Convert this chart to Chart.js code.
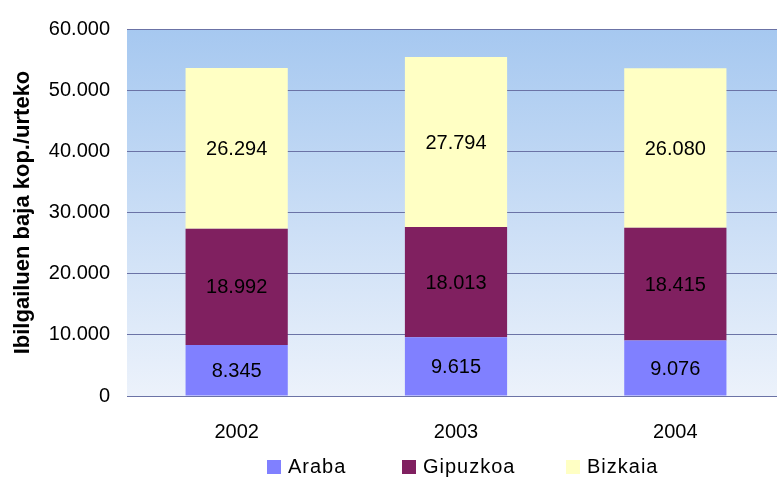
<!DOCTYPE html>
<html lang="eu">
<head>
<meta charset="UTF-8">
<title>Ibilgailuen baja</title>
<script src="https://cdn.jsdelivr.net/npm/chart.js"></script>
<style>
  html, body { margin: 0; padding: 0; background: #fff; overflow: hidden; }
  #wrap { width: 785px; height: 477px; }
</style>
</head>
<body>
<div id="wrap"><canvas id="bajaChart"></canvas></div>
<script>
const years = ['2002', '2003', '2004'];
const araba = [8345, 9615, 9076];
const gipuzkoa = [18992, 18013, 18415];
const bizkaia = [26294, 27794, 26080];
const yTicks = [0, 10000, 20000, 30000, 40000, 50000, 60000];

const FONT = 'Liberation Sans, Arial, sans-serif';

function fmt(v) {
    return String(v).replace(/\B(?=(\d{3})+(?!\d))/g, '.');
}

// plot area background gradient
const bgPlugin = {
    id: 'plotBg',
    beforeDraw(chart) {
        const { ctx, chartArea: a } = chart;
        const g = ctx.createLinearGradient(0, a.top, 0, a.bottom);
        g.addColorStop(0, '#A6C8F0');
        g.addColorStop(1, '#ECF2FB');
        ctx.save();
        ctx.fillStyle = g;
        ctx.fillRect(a.left, a.top, a.right - a.left, a.bottom - a.top);
        ctx.restore();
    }
};

// values in the middle of each segment
const labelPlugin = {
    id: 'segLabels',
    afterDatasetsDraw(chart) {
        const ctx = chart.ctx;
        ctx.save();
        ctx.font = '20px ' + FONT;
        ctx.fillStyle = '#000';
        ctx.textAlign = 'center';
        ctx.textBaseline = 'middle';
        chart.data.datasets.forEach((ds, i) => {
            chart.getDatasetMeta(i).data.forEach((bar, j) => {
                const p = bar.getProps(['x', 'y', 'base'], true);
                ctx.fillText(fmt(ds.data[j]), p.x, (p.y + p.base) / 2 + 1);
            });
        });
        ctx.restore();
    }
};

// legend drawn by hand so it sits under the plot centre
const legendPlugin = {
    id: 'bottomLegend',
    afterDraw(chart) {
        const ctx = chart.ctx;
        const xs = [267, 402, 566];
        const y = 467;
        ctx.save();
        ctx.font = '20px ' + FONT;
        ctx.letterSpacing = '1px';
        ctx.textBaseline = 'middle';
        ctx.textAlign = 'left';
        chart.data.datasets.forEach((ds, i) => {
            ctx.fillStyle = ds.backgroundColor;
            ctx.fillRect(xs[i], y - 7, 14, 14);
            ctx.fillStyle = '#000';
            ctx.fillText(ds.label, xs[i] + 21, y);
        });
        ctx.restore();
    }
};

new Chart(document.getElementById('bajaChart'), {
    type: 'bar',
    data: {
        labels: years,
        datasets: [
            { label: 'Araba', data: araba, backgroundColor: '#8080FF' },
            { label: 'Gipuzkoa', data: gipuzkoa, backgroundColor: '#802060' },
            { label: 'Bizkaia', data: bizkaia, backgroundColor: '#FFFFC4' }
        ]
    },
    options: {
        responsive: true,
        maintainAspectRatio: false,
        animation: false,
        layout: { padding: { top: 25, right: 0, bottom: 0, left: 0 } },
        datasets: { bar: { categoryPercentage: 1, barPercentage: 0.466, borderWidth: 0 } },
        plugins: {
            legend: { display: false },
            tooltip: { enabled: false }
        },
        scales: {
            x: {
                stacked: true,
                grid: { display: false },
                border: { display: false },
                ticks: { color: '#000', font: { family: FONT, size: 20 }, padding: 16 },
                afterFit(scale) { scale.height = 81; }
            },
            y: {
                stacked: true,
                min: 0,
                max: 60000,
                afterBuildTicks(scale) { scale.ticks = yTicks.map(v => ({ value: v })); },
                grid: { color: '#6B73A6', lineWidth: 1, drawTicks: false },
                border: { display: false },
                ticks: {
                    color: '#000',
                    font: { family: FONT, size: 20 },
                    padding: 17,
                    callback: v => fmt(v)
                },
                title: {
                    display: true,
                    text: 'Ibilgailuen baja kop./urteko',
                    color: '#000',
                    font: { family: FONT, size: 22, weight: 'bold' },
                    padding: { top: 10, bottom: 0 }
                },
                afterFit(scale) { scale.width = 127; }
            }
        }
    },
    plugins: [bgPlugin, labelPlugin, legendPlugin]
});
</script>
</body>
</html>
